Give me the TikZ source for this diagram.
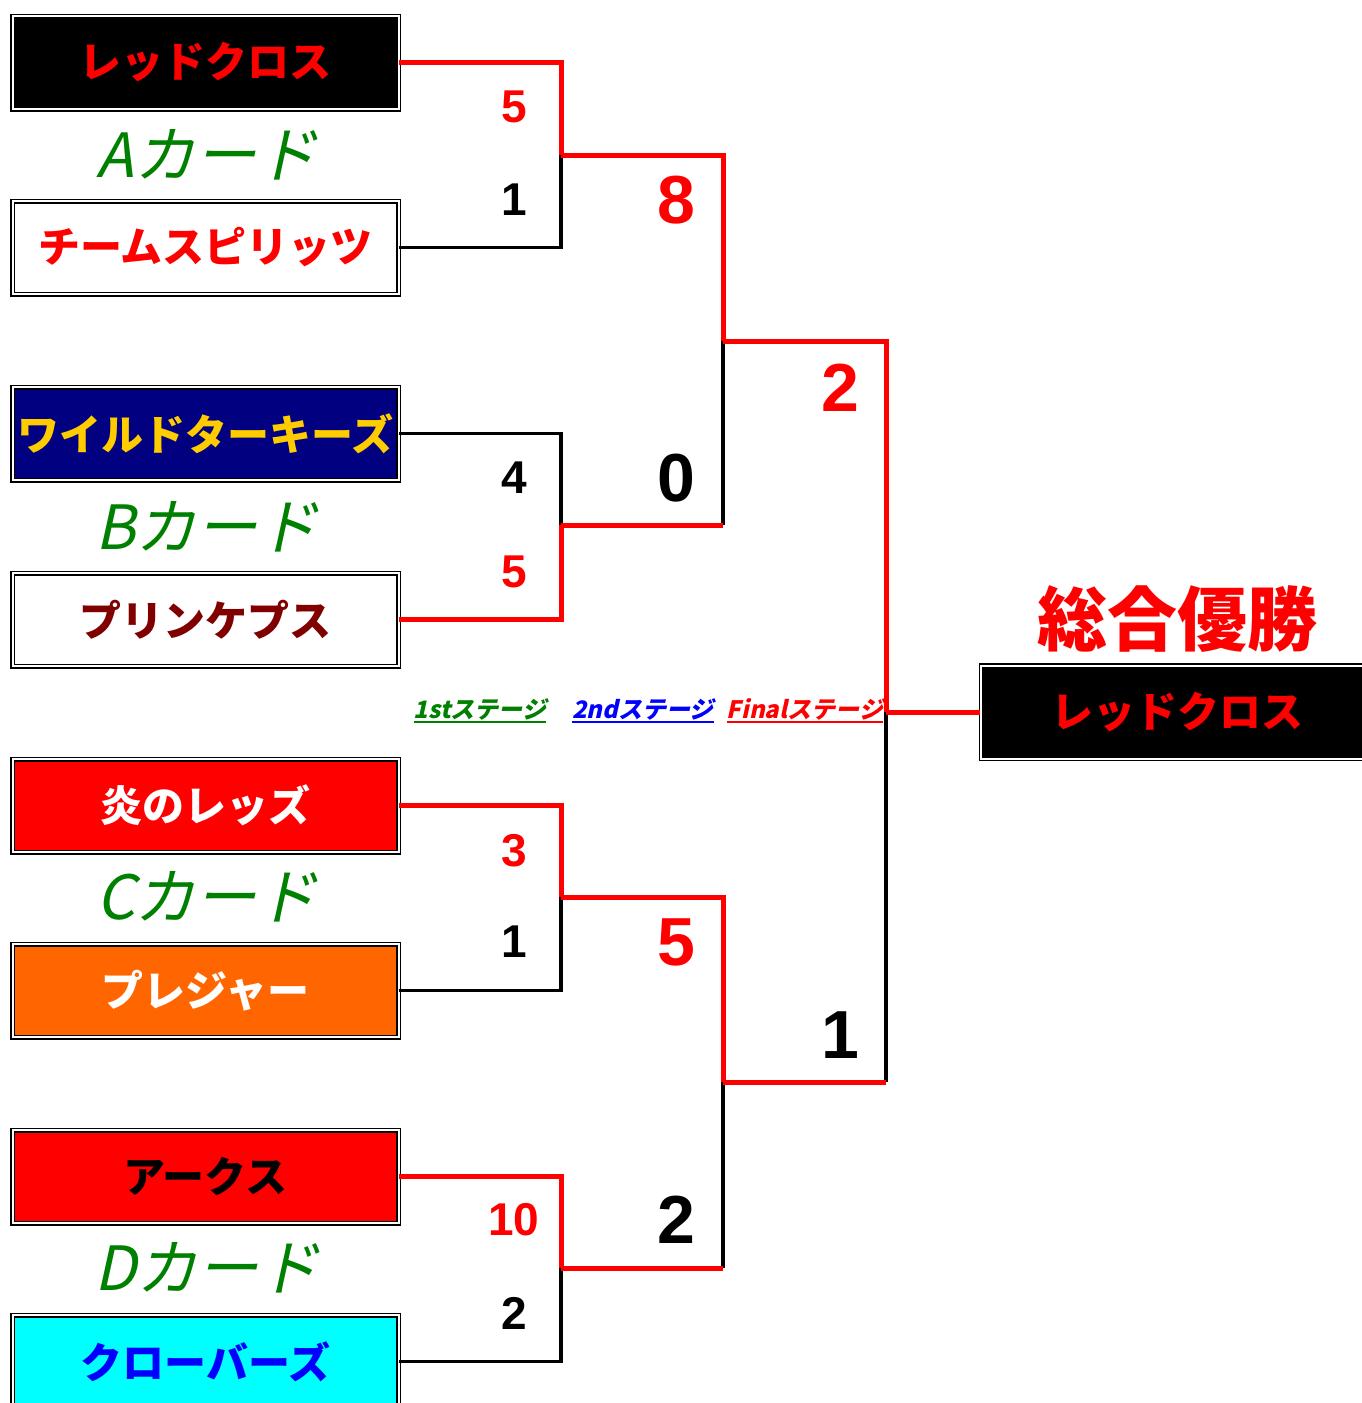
\documentclass[tikz,border=0pt]{standalone}
\usepackage{fontspec}
\setmainfont{Liberation Sans}
\newfontfamily\jpfont{Noto Sans CJK JP}
\newfontfamily\jpslant[FakeSlant=0.22]{Noto Sans CJK JP}
\usetikzlibrary{positioning}
\usetikzlibrary{calc}

\definecolor{navyblue}{RGB}{0,0,128}
\definecolor{goldtext}{RGB}{255,204,0}
\definecolor{darkred}{RGB}{128,0,0}
\definecolor{pleasure}{RGB}{255,102,0}
\definecolor{cardgreen}{RGB}{0,128,0}
\definecolor{aqua}{RGB}{0,255,255}

\tikzset{
  teambox/.style={draw=black, line width=1.5pt, double=white, double distance=2pt,
    minimum width=386pt, minimum height=93pt, inner sep=0pt,
    font=\jpfont\bfseries\fontsize{42}{48}\selectfont},
  cardlabel/.style={text=cardgreen, font=\jpslant\fontsize{61}{66}\selectfont},
  score/.style={font=\bfseries\fontsize{46}{50}\selectfont},
  bigscore/.style={font=\bfseries\fontsize{68}{72}\selectfont},
  stagelabel/.style={inner sep=0pt, anchor=base, font=\jpslant\bfseries\fontsize{24}{28}\selectfont},
  winline/.style={draw=red, line width=5pt},
  loseline/.style={draw=black, line width=3.5pt}
}

\begin{document}
\begin{tikzpicture}[x=1pt,y=-1pt]
  \useasboundingbox (0,0) rectangle (1362,1403);

  % Define the team boxes
  \node[teambox, fill=black, text=red] (redcross) at (205.5,62.5) {レッドクロス};
  \node[teambox, fill=white, text=red] (spirits) at (205.5,247.5) {チームスピリッツ};
  \node[teambox, fill=navyblue, text=goldtext] (turkeys) at (205.5,433.5) {ワイルドターキーズ};
  \node[teambox, fill=white, text=darkred] (princeps) at (205.5,619.5) {プリンケプス};
  \node[teambox, fill=red, text=white] (honoo) at (205.5,805.5) {炎のレッズ};
  \node[teambox, fill=pleasure, text=white] (pleasure) at (205.5,990.5) {プレジャー};
  \node[teambox, fill=red, text=black] (arcs) at (205.5,1176.5) {アークス};
  \node[teambox, fill=aqua, text=blue] (clovers) at (205.5,1361.5) {クローバーズ};

  % Card names
  \foreach \name/\y/\card in {carda/155/A, cardb/527/B, cardc/897/C, cardd/1268/D}
    \node[cardlabel] (\name) at (207,\y) {\card カード};

  % Define the bracket corners
  \coordinate (r1a) at (561,155);
  \coordinate (r1b) at (561,525);
  \coordinate (r1c) at (561,897);
  \coordinate (r1d) at (561,1268);
  \coordinate (r2ab) at (723,341);
  \coordinate (r2cd) at (723,1082);
  \coordinate (fin) at (886,712);

  % Title and champion
  \node[text=red, font=\jpfont\bfseries\fontsize{70}{74}\selectfont] (title) at (1177,619) {総合優勝};
  \node[teambox, fill=black, text=red, minimum width=392pt] (champion) at (1177,712) {レッドクロス};

  % Draw the lines
  \draw[loseline] (spirits.east) -| (r1a);
  \draw[loseline] (turkeys.east) -| (r1b);
  \draw[loseline] (pleasure.east) -| (r1c);
  \draw[loseline] (clovers.east) -| (r1d);
  \draw[loseline] (r1b -| r2ab) -- (r2ab);
  \draw[loseline] (r1d -| r2cd) -- (r2cd);
  \draw[loseline] (r2cd -| fin) -- (fin);

  \draw[winline] (redcross.east) -| (r1a);
  \draw[winline] (princeps.east) -| (r1b);
  \draw[winline] (honoo.east) -| (r1c);
  \draw[winline] (arcs.east) -| (r1d);
  \draw[winline] (r1a) -| (r2ab);
  \draw[winline] (r1b) -- (r1b -| r2ab);
  \draw[winline] (r1c) -| (r2cd);
  \draw[winline] (r1d) -- (r1d -| r2cd);
  \draw[winline] (r2ab) -| (fin);
  \draw[winline] (r2cd) -- (r2cd -| fin);
  \draw[winline] (fin) -- (champion.west);

  % Scores
  \foreach \name/\pos/\label/\col in {sa1/{514,107}/5/red, sa2/{514,200}/1/black,
      sb1/{514,478}/4/black, sb2/{514,572}/5/red,
      sc1/{514,851}/3/red, sc2/{514,942}/1/black,
      sd1/{514,1220}/10/red, sd2/{514,1313}/2/black}
    \node[score, text=\col] (\name) at (\pos) {\label};
  \foreach \name/\pos/\label/\col in {sab1/{676,200}/8/red, sab2/{676,478}/0/black,
      scd1/{676,942}/5/red, scd2/{676,1220}/2/black,
      sf1/{840,388}/2/red, sf2/{840,1035}/1/black}
    \node[bigscore, text=\col] (\name) at (\pos) {\label};

  % Stage names
  \node[stagelabel, text=cardgreen] (stage1) at (480,718) {1stステージ};
  \node[stagelabel, text=blue] (stage2) at (643,718) {2ndステージ};
  \node[stagelabel, text=red] (stage3) at (805,718) {Finalステージ};
  \foreach \st/\col in {stage1/cardgreen, stage2/blue, stage3/red}
    \draw[\col, line width=2.5pt] ($(\st.base west)+(0,4)$) -- ($(\st.base east)+(0,4)$);
\end{tikzpicture}
\end{document}
